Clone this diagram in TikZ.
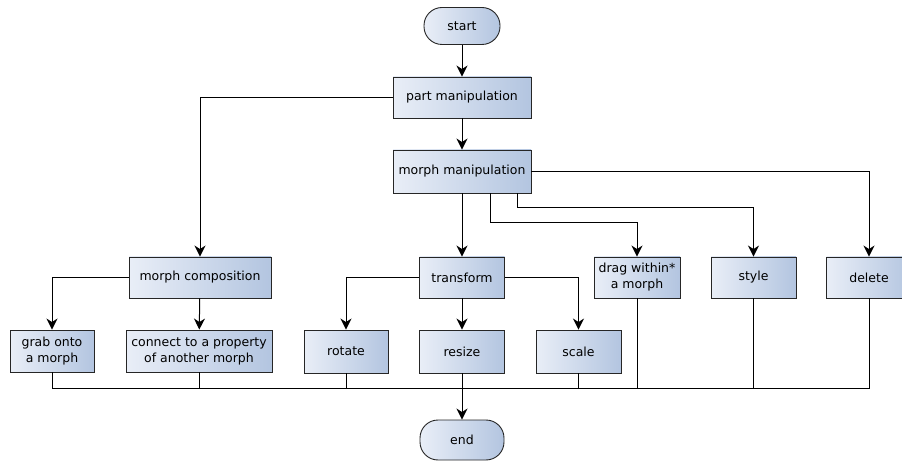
\documentclass[tikz,border=0pt]{standalone}
\usepackage{fontspec}
\setmainfont{DejaVu Sans}
\usetikzlibrary{arrows.meta,calc}
\definecolor{gl}{HTML}{E9EEF7}
\definecolor{gr}{HTML}{B3C5E0}
\tikzset{
  box/.style={draw=black!85, line width=0.9pt, left color=gl, right color=gr,
    minimum height=42pt, inner sep=2pt, align=center,
    font=\fontsize{12.5}{16}\selectfont},
  term/.style={box, rounded corners=18pt, minimum height=37pt},
  conn/.style={draw=black, line width=1pt},
  arr/.style={conn, -{Stealth[length=11pt,width=11pt,inset=3.5pt]}}
}
\begin{document}
\begin{tikzpicture}[x=1pt,y=-1pt]
\useasboundingbox (0,0) rectangle (902,462);
\node[term, minimum width=76pt] (start) at (462,26) {start};
\node[box, minimum width=138pt, minimum height=41pt] (pm) at (462,97.5) {part manipulation};
\node[box, minimum width=138pt, minimum height=43pt] (mm) at (462,171.5) {morph manipulation};
\node[box, minimum width=142pt, minimum height=41pt] (mc) at (200,277.5) {morph composition};
\node[box, minimum width=85pt, minimum height=41pt] (tr) at (462,277.5) {transform};
\node[box, minimum width=86pt, minimum height=41pt] (drag) at (637,277.5) {drag within*\\a morph};
\node[box, minimum width=85pt, minimum height=41pt] (style) at (753.5,277.5) {style};
\node[box, minimum width=85pt, minimum height=41pt] (del) at (869,277.5) {delete};
\node[box, minimum width=84pt, minimum height=42pt] (grab) at (52,351) {grab onto\\a morph};
\node[box, minimum width=146pt, minimum height=42pt] (con) at (199,351) {connect to a property\\of another morph};
\node[box, minimum width=84pt, minimum height=43pt] (rot) at (346,351.5) {rotate};
\node[box, minimum width=85pt, minimum height=43pt] (res) at (462,351.5) {resize};
\node[box, minimum width=85pt, minimum height=43pt] (sc) at (578.5,351.5) {scale};
\node[term, minimum width=84pt, minimum height=40pt] (end) at (462,440) {end};
\coordinate (j1) at (490,223);
\coordinate (j2) at (517,208);
\coordinate (bus) at (462,388);
\draw[arr] (start) -- (pm);
\draw[arr] (pm) -- (mm);
\draw[arr] (pm.west) -| (mc);
\draw[arr] (mm) -- (tr);
\draw[arr] (j1 |- mm.south) -- (j1) -| (drag);
\draw[arr] (j2 |- mm.south) -- (j2) -| (style);
\draw[arr] (mm.east) -| (del);
\draw[arr] (mc.west) -| (grab);
\draw[arr] (mc) -- (con);
\draw[arr] (tr.west) -| (rot);
\draw[arr] (tr) -- (res);
\draw[arr] (tr.east) -| (sc);
\draw[conn] (grab.south) |- (bus);
\draw[conn] (con.south) |- (bus);
\draw[conn] (rot.south) |- (bus);
\draw[conn] (sc.south) |- (bus);
\draw[conn] (drag.south) |- (bus);
\draw[conn] (style.south) |- (bus);
\draw[conn] (del.south) |- (bus);
\draw[arr] (res) -- (end);
\end{tikzpicture}
\end{document}
